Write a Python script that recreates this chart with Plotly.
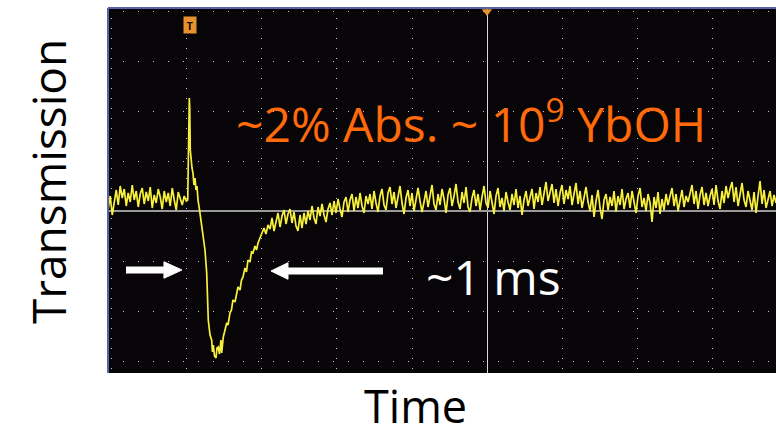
import numpy as np
import plotly.graph_objects as go

# ---------------- data (oscilloscope divisions) ----------------
# pre-trigger baseline noise, sampled every 2 px (2/75 div), starting at left edge
pre_start = -5.05
pre_step = 2 / 75
pre_vals = [0.05, 0.30, -0.08, 0.20, 0.42, 0.12, 0.50, 0.26, 0.44, 0.10,
            0.36, 0.18, 0.52, 0.22, 0.40, 0.08, 0.34, 0.46, 0.14, 0.38,
            0.20, 0.48, 0.06, 0.32, 0.16, 0.44, 0.28, 0.04, 0.40, 0.18,
            0.36, 0.10, 0.46, 0.22, 0.02, 0.38, 0.26, 0.12, 0.30, 0.20]

# pulse: spike and absorption dip (time, value)
pulse_t = [-3.990, -3.973, -3.969, -3.963, -3.956, -3.947, -3.933, -3.920, -3.907, -3.893,
           -3.880, -3.867, -3.853, -3.827, -3.791, -3.760, -3.737, -3.716, -3.693, -3.671,
           -3.660, -3.649, -3.633, -3.613, -3.600, -3.583, -3.567, -3.547, -3.537, -3.516,
           -3.493, -3.471, -3.453, -3.427, -3.407, -3.387, -3.360, -3.340, -3.320, -3.293,
           -3.273, -3.253, -3.227, -3.207, -3.187, -3.160, -3.140, -3.120, -3.093, -3.073,
           -3.053, -3.027, -3.000, -2.973, -2.947, -2.920]
pulse_v = [0.22, 1.42, 2.26, 2.02, 1.22, 1.02, 0.86, 0.76, 0.52, 0.66,
           0.42, 0.50, 0.22, -0.04, -0.44, -0.78, -1.24, -2.18, -2.48, -2.58,
           -2.82, -2.68, -2.90, -2.94, -2.74, -2.72, -2.86, -2.58, -2.84, -2.52,
           -2.38, -2.24, -2.28, -2.04, -1.98, -1.78, -1.82, -1.62, -1.52, -1.58,
           -1.38, -1.32, -1.14, -1.22, -0.98, -1.02, -0.82, -0.84, -0.70, -0.78,
           -0.64, -0.54, -0.44, -0.34, -0.46, -0.28]

# recovery and post-pulse baseline, sampled every 2 px
post_start = -2.893
post_step = 2 / 75
post_vals = [-0.36, -0.14, -0.40, -0.18, -0.04, -0.32, -0.10, 0.02, -0.26, -0.06,
             0.04, -0.24, -0.02, -0.30, -0.40, -0.08, -0.34, -0.04, -0.26, 0.00,
             -0.18, 0.10, -0.14, -0.26, 0.08, -0.10, 0.14, -0.08, -0.22, 0.04,
             0.16, -0.08, 0.20, -0.04, 0.24, 0.04, -0.12, 0.18, 0.28, -0.02,
             0.22, 0.34, 0.00, 0.28, 0.06, 0.36, 0.10, -0.04, 0.30, 0.14,
             0.34, 0.04, 0.40, 0.16, -0.02, 0.30, 0.44, 0.12, 0.02, 0.36,
             0.48, 0.14, 0.38, 0.06, 0.30, 0.50, 0.16, -0.06, 0.26, 0.42,
             0.10, 0.36, 0.00, 0.24, 0.46, 0.20, -0.02, 0.18, 0.40, 0.08,
             0.30, 0.52, 0.14, 0.02, 0.34, 0.12, 0.44, 0.24, -0.04, 0.32,
             0.46, 0.10, 0.30, 0.54, 0.18, 0.04, 0.38, 0.16, 0.48, 0.08,
             -0.02, 0.26, 0.42, 0.10, 0.34, 0.02, 0.28, 0.50, 0.16, 0.06,
             0.40, 0.14, -0.06, 0.30, 0.46, 0.08, 0.26, 0.00, 0.38, 0.18,
             0.02, 0.34, 0.12, 0.44, 0.06, 0.30, -0.08, 0.22, 0.40, 0.10,
             0.26, 0.44, 0.04, 0.36, 0.18, 0.48, 0.12, 0.38, 0.58, 0.20,
             0.40, 0.54, 0.16, 0.44, 0.10, 0.36, 0.52, 0.14, 0.42, 0.24,
             0.50, 0.12, 0.34, 0.56, 0.14, 0.40, 0.06, 0.30, 0.48, 0.18,
             0.00, 0.32, -0.12, 0.20, 0.42, 0.06, -0.16, 0.22, 0.34, 0.02,
             0.28, 0.10, 0.40, -0.02, 0.30, 0.12, 0.44, 0.04, 0.24, 0.36,
             0.06, 0.40, 0.18, -0.04, 0.30, 0.46, 0.08, 0.26, 0.00, 0.34,
             0.16, -0.22, 0.28, 0.06, 0.38, -0.06, 0.24, 0.02, 0.34, 0.12,
             0.30, 0.46, 0.10, 0.34, 0.00, 0.24, 0.42, 0.08, 0.30, 0.18,
             0.38, 0.52, 0.14, 0.40, 0.04, 0.32, 0.48, 0.12, 0.36, 0.10,
             0.30, 0.44, 0.12, 0.52, 0.20, 0.04, 0.40, 0.16, 0.50, 0.26,
             0.44, 0.58, 0.18, 0.48, 0.10, 0.36, 0.56, 0.22, 0.08, 0.40,
             0.20, 0.02, 0.38, -0.04, 0.30, 0.60, 0.14, 0.42, 0.06, 0.26,
             0.40, 0.10, 0.32, 0.16]

x_range = [-5.053, 3.853]
y_range = [-3.24, 4.06]

# arrows (division units): tail, head base, tip, y
arrow_left = dict(tail=-4.813, base=-4.307, tip=-4.067, y=-1.18)
arrow_right = dict(tail=-1.387, base=-2.653, tip=-2.880, y=-1.20)

# ---------------- build trace ----------------
pre_t = pre_start + pre_step * np.arange(len(pre_vals))
post_t = post_start + post_step * np.arange(len(post_vals))
t = np.concatenate([pre_t, pulse_t, post_t])
v = np.concatenate([pre_vals, pulse_v, post_vals])

fig = go.Figure()
fig.add_trace(go.Scatter(x=t, y=v, mode="lines",
                         line=dict(color="#f7f03c", width=1.7),
                         hoverinfo="skip", showlegend=False))

# trigger-position marker at top centre
fig.add_trace(go.Scatter(x=[0], y=[y_range[1] - 0.07], mode="markers",
                         marker=dict(symbol="triangle-down", size=9, color="#e8922e"),
                         cliponaxis=False, hoverinfo="skip", showlegend=False))

FONT = "Open Sans"

fig.update_layout(
    width=776, height=427,
    margin=dict(l=108, r=0, t=8, b=54),
    paper_bgcolor="white",
    plot_bgcolor="#080508",
    showlegend=False,
    font=dict(family=FONT),
    xaxis=dict(range=x_range, tick0=0, dtick=1, showticklabels=False, ticks="",
               showgrid=True, gridcolor="#c8c8c8", gridwidth=1, griddash="1px,9px",
               zeroline=True, zerolinecolor="#d8d8d8", zerolinewidth=1.2,
               showline=False, fixedrange=True),
    yaxis=dict(range=y_range, tick0=0, dtick=1, showticklabels=False, ticks="",
               showgrid=True, gridcolor="#c8c8c8", gridwidth=1, griddash="1px,14px",
               zeroline=True, zerolinecolor="#9a9a9a", zerolinewidth=1.5,
               showline=False, fixedrange=True),
)

# scope frame (left and top blue border)
fig.add_shape(type="line", xref="paper", yref="paper", x0=0, x1=0, y0=0, y1=1,
              line=dict(color="#5864a8", width=2))
fig.add_shape(type="line", xref="paper", yref="paper", x0=0, x1=1, y0=1, y1=1,
              line=dict(color="#5864a8", width=2))

# white arrows: shaft + triangular head
head_half = 0.165
for a in (arrow_left, arrow_right):
    fig.add_shape(type="line", xref="x", yref="y", x0=a["tail"], x1=a["base"],
                  y0=a["y"], y1=a["y"], line=dict(color="white", width=7))
    fig.add_shape(type="path", xref="x", yref="y",
                  path=(f"M{a['base']},{a['y'] + head_half} L{a['tip']},{a['y']} "
                        f"L{a['base']},{a['y'] - head_half} Z"),
                  fillcolor="white", line=dict(color="white", width=1))

annotations = [
    # trigger "T" badge
    dict(x=-3.96, y=3.72, xref="x", yref="y", text="<b>T</b>", showarrow=False,
         font=dict(family=FONT, size=11, color="#1a0a00"),
         bgcolor="#e8922e", borderpad=1, width=10, height=14),
    # orange label
    dict(x=-0.21, y=1.80, xref="x", yref="y",
         text="~2% Abs. ~ 10<sup>9</sup> YbOH", showarrow=False,
         font=dict(family=FONT, size=48, color="#ff6a0a")),
    # white label
    dict(x=0.08, y=-1.30, xref="x", yref="y", text="~1 ms", showarrow=False,
         font=dict(family=FONT, size=48, color="white")),
    # axis titles
    dict(x=-0.0898, y=0.523, xref="paper", yref="paper", text="Transmission",
         textangle=-90, showarrow=False, xanchor="center", yanchor="middle",
         font=dict(family=FONT, size=46, color="black")),
    dict(x=0.461, y=-0.09, xref="paper", yref="paper", text="Time",
         showarrow=False, xanchor="center", yanchor="middle",
         font=dict(family=FONT, size=45, color="black")),
]
fig.update_layout(annotations=annotations)

fig.write_html("out.html", config=dict(displayModeBar=False),
               post_script="document.body.style.margin='0';document.body.style.overflow='hidden';")
